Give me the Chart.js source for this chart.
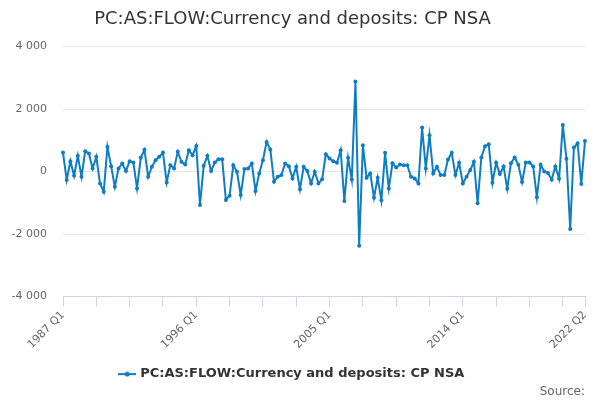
<!DOCTYPE html>
<html>
<head>
<meta charset="utf-8">
<script src="https://cdn.jsdelivr.net/npm/chart.js@4.4.1/dist/chart.umd.min.js"></script>
<style>
  html, body { margin: 0; padding: 0; background: #fff; }
  #wrap { width: 600px; height: 400px; }
</style>
</head>
<body>
<div id="wrap"><canvas id="myChart" width="600" height="400"></canvas></div>
<script>
const seriesName = "PC:AS:FLOW:Currency and deposits: CP NSA";

// quarterly values, 1987 Q1 .. 2022 Q2
const values = [
  610, -270, 335, -134, 504, -165, 653, 580, 100, 472,
  -377, -643, 791, 175, -484, 100, 260, 16, 335, 292,
  -537, 441, 700, -165, 153, 366, 472, 611, -345, 207,
  100, 632, 313, 228, 685, 526, 823, -1068, 186, 504,
  16, 292, 398, 398, -908, -770, 207, -5, -749, 80,
  102, 261, -621, -58, 366, 950, 707, -324, -165, -112,
  261, 175, -218, 154, -568, 154, 16, -377, -5, -377,
  -245, 558, 420, 335, 282, 685, -940, 441, -250, 2884,
  -2374, 845, -197, -58, -834, -197, -919, 600, -537, 271,
  133, 228, 207, 207, -165, -218, -377, 1408, 101, 1163,
  -58, 154, -112, -112, 388, 600, -112, 282, -377, -165,
  48, 313, -1015, 452, 812, 876, -360, 280, -80, 165,
  -548, 271, 452, 218, -335, 292, 292, 165, -823, 218,
  5, -48, -260, 165, -228, 1493, 409, -1833, 770, 908,
  -398, 982
];

const firstYear = 1987;
const quarters = [];
for (let i = 0; i < values.length; i++) {
  quarters.push((firstYear + Math.floor(i / 4)) + " Q" + (i % 4 + 1));
}

const shownLabels = ["1987 Q1", "1996 Q1", "2005 Q1", "2014 Q1", "2022 Q2"];
const tickEvery = 9;
const yTicks = [-4000, -2000, 0, 2000, 4000];

const lineColor = "#0f7dc2";
const font = "'DejaVu Sans', Verdana, sans-serif";

// legend symbol: short line with a dot
const sym = document.createElement("canvas");
sym.width = 18;
sym.height = 10;
const sctx = sym.getContext("2d");
sctx.strokeStyle = lineColor;
sctx.lineWidth = 2;
sctx.beginPath();
sctx.moveTo(0, 5);
sctx.lineTo(18, 5);
sctx.stroke();
sctx.fillStyle = lineColor;
sctx.beginPath();
sctx.arc(9, 5, 2.5, 0, Math.PI * 2);
sctx.fill();

function fmt(v) {
  const s = String(Math.abs(v)).replace(/\B(?=(\d{3})+(?!\d))/g, " ");
  return (v < 0 ? "-" : "") + s;
}

const ctx = document.getElementById("myChart").getContext("2d");

new Chart(ctx, {
  type: "line",
  data: {
    labels: quarters,
    datasets: [{
      label: seriesName,
      data: values,
      borderColor: lineColor,
      backgroundColor: lineColor,
      borderWidth: 2,
      pointRadius: 2,
      pointHoverRadius: 3,
      pointBorderWidth: 0,
      tension: 0
    }]
  },
  options: {
    responsive: false,
    animation: false,
    layout: { padding: { top: 9, right: 15, bottom: 1, left: 0 } },
    plugins: {
      title: {
        display: true,
        text: seriesName,
        color: "#333333",
        font: { family: font, size: 18, weight: "normal" },
        padding: { top: 0, bottom: 16 }
      },
      subtitle: {
        display: true,
        text: "Source:",
        position: "bottom",
        align: "end",
        color: "#666666",
        font: { family: font, size: 12, weight: "normal" },
        padding: { top: -6, bottom: 0 }
      },
      legend: {
        position: "bottom",
        labels: {
          usePointStyle: true,
          pointStyle: sym,
          color: "#333333",
          font: { family: font, size: 13, weight: "bold" },
          padding: 3
        }
      },
      tooltip: { enabled: false }
    },
    scales: {
      x: {
        type: "category",
        offset: false,
        afterFit: function (axis) {
          axis.height = 68;
        },
        grid: {
          drawOnChartArea: false,
          color: "#ccd6eb",
          tickLength: 10
        },
        border: { color: "#ccd6eb" },
        ticks: {
          autoSkip: false,
          maxRotation: 45,
          minRotation: 45,
          color: "#666666",
          font: { family: font, size: 11 },
          padding: 2,
          callback: function (value, index) {
            const lab = quarters[index];
            if (shownLabels.includes(lab)) return lab;
            if (index % tickEvery === 0) return "";
            return null;
          }
        }
      },
      y: {
        min: yTicks[0],
        max: yTicks[yTicks.length - 1],
        afterBuildTicks: function (axis) {
          axis.ticks = yTicks.map(v => ({ value: v }));
        },
        afterFit: function (axis) {
          axis.width = 63;
        },
        grid: { color: "#e6e6e6", drawTicks: false },
        border: { display: false },
        ticks: {
          color: "#666666",
          font: { family: font, size: 11 },
          padding: 16,
          callback: v => fmt(v)
        }
      }
    }
  }
});
</script>
</body>
</html>
